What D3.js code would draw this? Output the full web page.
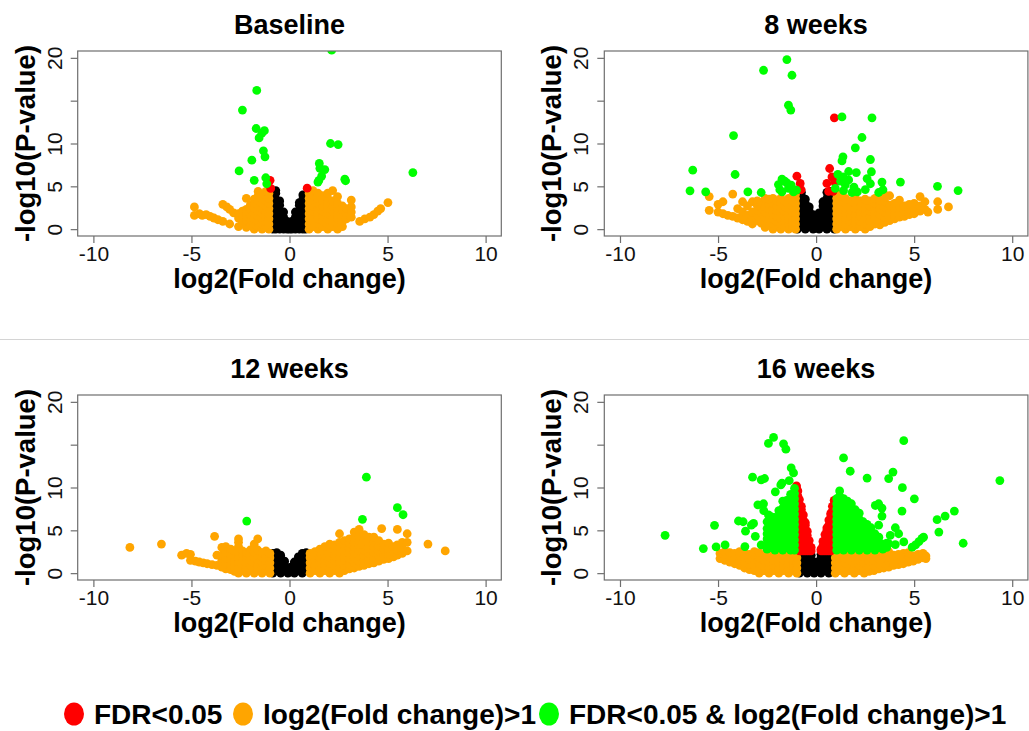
<!DOCTYPE html>
<html><head><meta charset="utf-8">
<script src="https://cdn.jsdelivr.net/npm/d3@7"></script>
<style>body{margin:0;background:#fff}svg{display:block}</style>
</head><body><svg id="c" width="1029" height="731"></svg>
<script>
// ---------- text / ticks ----------
const panelTitles = ["Baseline", "8 weeks", "12 weeks", "16 weeks"];
const xLabel = "log2(Fold change)";
const yLabel = "-log10(P-value)";
const xTicks = [-10, -5, 0, 5, 10];
const xTickLabels = ["-10", "-5", "0", "5", "10"];
const yTicks = [0, 5, 10, 15, 20];
const yTickLabels = ["0", "5", "10", "", "20"];
const legendLabels = ["FDR<0.05", "log2(Fold change)>1", "FDR<0.05 & log2(Fold change)>1"];
const catColors = {black: "#000000", orange: "#FFA500", red: "#FF0000", green: "#00FF00"};

// ---------- data: [x, [y,...]] columns or [x, y] points ----------
// Baseline
const base_black = [
  [-0.85,[0,0.6,1.2,1.8,2.4,3.0,3.6]],
  [-0.7,[0,0.7,1.4,2.1,2.8,3.5,4.2,4.5]],
  [-0.5,[0,0.7,1.4,2.1,2.8,3.3]],
  [-0.3,[0,0.7,1.4,2.0]],
  [-0.12,[0,0.6,0.9]],
  [0,[0,0.3]],
  [0.12,[0,0.6,0.9]],
  [0.3,[0,0.7,1.4,2.0]],
  [0.5,[0,0.7,1.4,2.1,2.8,3.1]],
  [0.68,[0,0.7,1.4,2.1,2.8,3.5,4.0]],
  [0.82,[0,0.7,1.4,2.1,2.8,3.4]]
];
const base_orange = [
  [-4.85,[1.6,2.6]],[-4.6,[1.8]],[-4.45,[1.6]],[-4.25,[1.7]],[-4.05,[1.5]],[-3.85,[1.3]],
  [-3.65,[1.1]],[-3.4,[0.9,2.9]],[-3.2,[2.6]],[-3.05,[0.6,2.3]],[-2.85,[1.9]],
  [-2.6,[0.3,1.3,1.8]],[-2.4,[0.8,1.4,2.1]],[-2.2,[0.2,1.0,1.6,2.3,3.6]],
  [-2.0,[0.5,1.1,1.7,2.3,2.8]],[-1.8,[0,0.6,1.2,1.8,2.4,3.0,3.5]],
  [-1.6,[0.3,0.9,1.5,2.1,2.7,3.3,3.9,4.4]],[-1.4,[0,0.6,1.2,1.8,2.4,3.0,3.6,4.1]],
  [-1.2,[0.3,0.9,1.5,2.1,2.7,3.3,3.9,4.4]],[-1.05,[0,0.6,1.2,1.8,2.4,3.0,3.6,4.2]],
  [1.0,[0,0.6,1.2,1.8,2.4,3.0,3.6,4.2]],[1.2,[0.3,0.9,1.5,2.1,2.7,3.3,3.9,4.5]],
  [1.45,[0,0.6,1.2,1.8,2.4,3.0,3.6,4.2]],[1.7,[0.3,0.9,1.5,2.1,2.7,3.3,3.9]],
  [1.95,[0,0.6,1.2,1.8,2.4,3.0,3.6,4.2]],[2.2,[0.3,0.9,1.5,2.1,2.7,3.3,4.5]],
  [2.45,[0,0.6,1.2,1.8,2.4,3.0,3.8]],[2.7,[0.3,0.9,1.5,2.1,2.7]],[2.9,[1.2,1.8,2.4]],
  [3.15,[1.4,2.0,2.6,3.4]],[3.58,[0.9]],[3.84,[1.2]],[4.1,[1.4]],[4.3,[1.7]],
  [4.5,[2.1]],[4.65,[2.4]],[5.02,[3.1]]
];
const base_red = [[-0.99,5.7],[-0.96,4.75],[0.9,4.78]];
const base_green = [
  [2.15,20.9],[-1.67,16.2],[-2.4,13.9],[-1.7,11.75],[-1.28,11.5],[-1.41,11.2],[-1.55,10.65],
  [-1.33,9.15],[-1.25,8.45],[-1.92,8.05],[-2.57,6.8],[-1.8,5.7],[-1.21,6.0],[-1.16,5.3],
  [2.09,10.0],[2.48,9.88],[1.52,7.67],[1.55,7.1],[1.8,6.96],[1.64,6.2],[1.5,5.7],[1.45,5.5],
  [2.82,5.83],[2.86,5.65],[6.29,6.6]
];

// 8 weeks
const w8_black = [
  [-0.95,[0,0.6,1.2,1.8,2.4,3.0,3.6,4.1]],
  [-0.75,[0.3,0.9,1.5,2.1,2.7,3.3,3.9,4.3]],
  [-0.55,[0,0.6,1.2,1.8,2.4,3.0,3.5]],
  [-0.35,[0.3,0.9,1.5,2.1,2.6]],
  [-0.15,[0,0.6,1.2,1.7]],
  [0,[0.3,0.9]],
  [0.15,[0,0.6,1.2,1.9]],
  [0.35,[0.3,0.9,1.5,2.1,2.7,3.2]],
  [0.55,[0,0.6,1.2,1.8,2.4,3.0,3.6,4.3]],
  [0.75,[0.3,0.9,1.5,2.1,2.7,3.3,3.9,4.4]],
  [0.93,[0,0.6,1.2,1.8,2.4,3.0,3.6,4.2]]
];
const w8_orange = [
  [-5.45,[2.2,3.8]],[-5.0,[2.0,2.9]],[-4.75,[1.8,3.2]],[-4.5,[1.6]],[-4.25,[1.5,4.1]],
  [-4.0,[1.3,2.4]],[-3.75,[1.1,2.0,3.2]],[-3.5,[0.9,1.6,2.7]],[-3.25,[0.6,1.3,2.0,3.2]],
  [-3.0,[1.0,1.6,2.2,2.8,3.3]],[-2.8,[0.7,1.3,1.9,2.5,3.1]],
  [-2.6,[0.2,0.8,1.4,2.0,2.6,3.2,3.6]],[-2.4,[0.5,1.1,1.7,2.3,2.9,3.5]],
  [-2.2,[0,0.6,1.2,1.8,2.4,3.0,3.6]],[-2.0,[0.3,0.9,1.5,2.1,2.7,3.3]],
  [-1.8,[0,0.6,1.2,1.8,2.4,3.0,3.6]],[-1.6,[0.3,0.9,1.5,2.1,2.7,3.3]],
  [-1.4,[0,0.6,1.2,1.8,2.4,3.0,3.6]],[-1.2,[0.3,0.9,1.5,2.1,2.7,3.3,3.9]],
  [-1.05,[0,0.6,1.2,1.8,2.4,3.0,3.6,4.1]],
  [1.05,[0,0.6,1.2,1.8,2.4,3.0,3.6,4.2]],[1.25,[0.3,0.9,1.5,2.1,2.7,3.3,3.9]],
  [1.5,[0,0.6,1.2,1.8,2.4,3.0,3.6]],[1.75,[0.3,0.9,1.5,2.1,2.7,3.3]],
  [2.0,[0,0.6,1.2,1.8,2.4,3.0,3.6]],[2.25,[0.3,0.9,1.5,2.1,2.7,3.3]],
  [2.5,[0,0.6,1.2,1.8,2.4,3.0,3.5]],[2.75,[0.3,0.9,1.5,2.1,2.7,3.3]],
  [3.0,[0.6,1.2,1.8,2.4,3.0,3.6]],[3.25,[0.5,1.1,1.7,2.3,2.9,3.4]],
  [3.5,[0.8,1.4,2.0,2.6,3.2,4.0]],[3.75,[1.0,1.6,2.2,2.8,3.9]],
  [4.0,[1.2,1.8,2.4,3.0]],[4.25,[1.4,2.0,2.6,3.4]],[4.5,[1.5,2.1,2.7]],
  [4.75,[1.7,2.3,2.9]],[5.0,[1.8,2.4,3.0]],[5.3,[2.1,2.7,3.8]],[5.55,[2.3,3.2]],
  [5.7,[2.0]],[6.2,[2.3,3.2]],[6.75,[2.6]]
];
const w8_red = [[0.93,13.0],[0.69,7.08],[0.81,6.1],[0.95,5.5],[0.55,5.34],[0.64,4.4],[0.86,4.4],
  [-0.98,6.18],[-0.81,5.34],[-0.76,4.6]];
const w8_green = [
  [-1.49,19.8],[-2.68,18.55],[-1.23,17.97],[-1.41,14.47],[-1.29,13.9],[1.32,13.1],[2.85,13.0],
  [-4.21,10.93],[2.34,10.7],[2.0,9.49],[1.37,8.44],[1.32,7.97],[2.77,8.13],[-6.29,6.88],[-4.13,6.38],
  [1.66,6.73],[2.05,6.6],[2.82,6.7],[-6.43,4.47],[-5.63,4.36],[-3.48,4.36],[-2.8,4.28],
  [-1.74,5.83],[-1.92,5.21],[-1.49,5.4],[-1.27,5.13],[-1.74,4.36],[-1.15,4.36],[-1.0,4.55],
  [-1.41,4.75],[-1.6,5.6],[-1.85,4.6],
  [0.98,4.75],[1.11,6.4],[1.37,6.1],[1.66,5.75],[1.49,5.17],[1.4,4.5],[1.93,4.9],[2.1,4.35],
  [2.51,4.62],[2.77,5.3],[3.36,5.5],[3.41,4.6],[3.19,4.28],[4.3,5.5],[6.19,5.0],[7.24,4.5],
  [1.83,4.28],[1.25,5.6],[2.6,5.9]
];

// 12 weeks
const w12_black = [
  [-0.85,[0,0.6,1.2,1.8,2.3]],[-0.65,[0.3,0.9,1.5,2.1,2.4]],[-0.45,[0,0.6,1.2,1.8,2.1]],
  [-0.25,[0.3,0.9,1.4]],[-0.08,[0,0.6]],[0.08,[0.3,0.7]],[0.25,[0,0.6,1.2,1.3]],
  [0.45,[0.3,0.9,1.5,1.9]],[0.65,[0,0.6,1.2,1.8,2.3]],[0.85,[0.3,0.9,1.5,2.1,2.4]]
];
const w12_orange = [
  [-8.14,[3.0]],[-6.53,[3.4]],[-5.5,[2.1]],[-5.25,[2.3]],[-5.05,[1.5,2.2]],[-4.8,[1.4]],
  [-4.6,[1.3]],[-4.4,[1.2]],[-4.2,[1.1]],[-3.95,[1.0]],[-3.82,[4.3]],[-3.7,[0.9,2.1]],
  [-3.45,[0.7,1.5,2.1,3.0]],[-3.25,[0.5,1.1,1.7,2.4,3.1]],[-3.0,[0.4,1.0,1.6,2.2,2.8]],
  [-2.8,[0.2,0.8,1.4,2.0,2.6]],[-2.6,[0,0.6,1.2,1.8,2.4,3.1,3.6,4.0]],
  [-2.4,[0.3,0.9,1.5,2.1,2.6]],[-2.2,[0,0.6,1.2,1.8,2.4]],[-2.0,[0.3,0.9,1.5,2.1,2.7]],
  [-1.8,[0,0.6,1.2,1.8,2.4,3.0,3.4]],[-1.62,[0.3,0.9,1.5,2.1,2.7,4.0]],
  [-1.4,[0,0.6,1.2,1.8,2.4]],[-1.2,[0.3,0.9,1.5,2.1,2.6]],[-1.0,[0,0.6,1.2,1.8,2.3]],
  [1.05,[0,0.6,1.2,1.8,2.3]],[1.3,[0.3,0.9,1.5,2.1,2.5]],[1.55,[0,0.6,1.2,1.8,2.4,2.8]],
  [1.8,[0.3,0.9,1.5,2.1,2.7,3.1]],[2.05,[0,0.6,1.2,1.8,2.4,3.0,3.4]],
  [2.3,[0.3,0.9,1.5,2.1,2.7,3.3]],[2.55,[0,0.6,1.2,1.8,2.4,3.0,3.6,4.6]],
  [2.8,[0.3,0.9,1.5,2.1,2.7,3.3,3.8]],[3.05,[0.5,1.1,1.7,2.3,2.9,3.5,4.0]],
  [3.3,[0.6,1.2,1.8,2.4,3.0,3.6,4.2,4.8]],[3.55,[0.8,1.4,2.0,2.6,3.2,3.8,4.4,5.1]],
  [3.8,[0.9,1.5,2.1,2.7,3.3,3.9,4.5]],[4.05,[1.1,1.7,2.3,2.9,3.5,4.2]],
  [4.3,[1.2,1.8,2.4,3.0,3.6,4.2]],[4.55,[1.4,2.0,2.6,3.2,3.8]],[4.7,[5.2]],
  [4.8,[1.6,2.2,2.8,3.4]],[5.05,[1.7,2.3,2.9,3.5]],[5.3,[1.9,2.5,3.1]],
  [5.5,[2.1,2.7,3.3,5.1]],[5.75,[2.3,2.9,3.6]],[6.0,[2.6,3.6,4.6]],[7.06,[3.4]],[7.94,[2.6]]
];
const w12_red = [];
const w12_green = [[3.92,11.2],[5.5,7.64],[5.79,6.82],[3.72,6.28],[-2.18,6.08]];

// 16 weeks
const w16_black = [
  [-0.85,[0,0.6,1.2,1.8,2.2]],[-0.65,[0.3,0.9,1.5,2.1]],[-0.45,[0,0.6,1.2,1.8,2.2]],
  [-0.25,[0.3,0.9,1.5,2.1]],[-0.1,[0,0.6,1.3]],[0.1,[0.3,0.9,1.3]],
  [0.25,[0,0.6,1.2,1.8,2.2]],[0.45,[0.3,0.9,1.5,2.1]],[0.65,[0,0.6,1.2,1.8,2.2]],
  [0.85,[0.3,0.9,1.5,2.1]]
];
const w16_orange = [
  [-4.9,[1.7,2.3]],[-4.65,[1.5,2.1,2.5]],[-4.4,[1.3,1.9,2.4]],[-4.15,[1.1,1.7,2.3]],
  [-3.9,[0.9,1.5,2.1,2.5]],[-3.65,[0.6,1.2,1.8,2.4]],[-3.4,[0.4,1.0,1.6,2.2]],
  [-3.15,[0.3,0.9,1.5,2.1,2.5]],[-2.9,[0,0.6,1.2,1.8,2.4]],[-2.65,[0.3,0.9,1.5,2.1]],
  [-2.4,[0,0.6,1.2,1.8,2.4]],[-2.15,[0.3,0.9,1.5,2.1]],[-1.9,[0,0.6,1.2,1.8,2.4]],
  [-1.65,[0.3,0.9,1.5,2.1]],[-1.4,[0,0.6,1.2,1.8,2.4]],[-1.15,[0.3,0.9,1.5,2.1]],
  [-0.98,[0,0.6,1.2,1.8,2.4]],
  [0.98,[0,0.6,1.2,1.8,2.4]],[1.2,[0.3,0.9,1.5,2.1]],[1.45,[0,0.6,1.2,1.8,2.4]],
  [1.7,[0.3,0.9,1.5,2.1]],[1.95,[0,0.6,1.2,1.8,2.4]],[2.2,[0.3,0.9,1.5,2.1]],
  [2.45,[0,0.6,1.2,1.8,2.4]],[2.7,[0.2,0.8,1.4,2.0]],[2.95,[0.3,0.9,1.5,2.1,2.5]],
  [3.2,[0.5,1.1,1.7,2.3]],[3.45,[0.6,1.2,1.8,2.4]],[3.7,[0.7,1.3,1.9,2.5]],
  [3.95,[0.9,1.5,2.1]],[4.2,[1.0,1.6,2.2]],[4.45,[1.1,1.7,2.3]],[4.7,[1.3,1.9,2.4]],
  [4.95,[1.4,2.0]],[5.2,[1.6,2.2]],[5.45,[1.8,2.3]],[5.6,[1.7,2.0]]
];
const w16_red = [
  [-1.0,[7.0,7.6,8.2,8.8,9.4,10.0,10.2]],
  [-0.93,[3.6,4.2,4.8,5.4,6.0,6.6,7.2,7.8,8.4,9.0,9.6]],
  [-0.85,[2.6,3.2,3.8,4.4,5.0,5.6,6.2,6.8,7.4,8.0,8.6]],
  [-0.75,[2.6,3.2,3.8,4.4,5.0,5.6,6.2,6.8,7.4,7.8]],
  [-0.65,[2.6,3.2,3.8,4.4,5.0,5.6,6.2,6.8]],
  [-0.55,[2.6,3.2,3.8,4.4,5.0,5.6,5.9]],
  [-0.45,[2.6,3.2,3.8,4.4,4.9]],
  [-0.35,[2.6,3.2,3.8]],
  [-0.25,[2.6,3.0]],
  [0.25,[2.6,2.8]],
  [0.35,[2.6,3.2,3.7]],
  [0.45,[2.6,3.2,3.8,4.5]],
  [0.55,[2.6,3.2,3.8,4.4,5.0,5.3]],
  [0.65,[2.6,3.2,3.8,4.4,5.0,5.6,6.2]],
  [0.75,[2.6,3.2,3.8,4.4,5.0,5.6,6.2,6.8,7.0]],
  [0.83,[3.0,3.6,4.2,4.8,5.4,6.0,6.6,7.2,7.8]],
  [0.92,[5.0,5.6,6.2,6.8,7.4,8.0,8.5]]
];
const w16_green_dense = [
  [-1.1,[2.7,3.3,3.9,4.5,5.1,5.7,6.3,6.9,7.5,8.1,8.7,9.3,9.9]],
  [-1.3,[2.7,3.3,3.9,4.5,5.1,5.7,6.3,6.9,7.5,8.1,8.7,9.2]],
  [-1.5,[3.0,3.6,4.2,4.8,5.4,6.0,6.6,7.2,7.8,8.5]],
  [-1.7,[2.7,3.3,3.9,4.5,5.1,5.7,6.3,6.9,7.6,8.4]],
  [-1.9,[3.0,3.6,4.2,4.8,5.4,6.0,6.6,7.3]],
  [-2.1,[2.7,3.3,3.9,4.5,5.1,5.7,6.5]],
  [-2.3,[3.0,3.6,4.2,4.8,5.4,6.0,6.6]],
  [-2.5,[2.8,3.4,4.0,4.6,5.2,6.0]],
  [1.05,[2.7,3.3,3.9,4.5,5.1,5.7,6.3,6.9,7.5,8.1,8.7]],
  [1.2,[3.0,3.6,4.2,4.8,5.4,6.0,6.6,7.2,7.8,8.4,9.0,9.6]],
  [1.4,[2.7,3.3,3.9,4.5,5.1,5.7,6.3,6.9,7.5,8.1,8.7]],
  [1.6,[3.0,3.6,4.2,4.8,5.4,6.0,6.6,7.2,7.8,8.4]],
  [1.8,[2.7,3.3,3.9,4.5,5.1,5.7,6.3,6.9,7.5,8.1]],
  [2.0,[3.0,3.6,4.2,4.8,5.4,6.0,6.6,7.4]],
  [2.2,[2.7,3.3,3.9,4.5,5.1,5.7,6.3,7.0]],
  [2.4,[3.0,3.6,4.2,4.8,5.4,6.0]],
  [2.6,[2.7,3.3,3.9,4.5,5.1,5.7]],
  [2.8,[3.0,3.6,4.2,4.8,5.3]],
  [3.0,[2.7,3.3,3.9,4.6]],
  [3.2,[3.0,3.6,4.2]],
  [3.4,[2.8,3.4]],
  [3.6,[3.0,3.5]]
];
const w16_green = [
  [-2.17,15.85],[-2.43,15.15],[-1.66,15.1],[-1.54,14.47],[4.47,15.47],[1.4,13.45],
  [-1.27,12.29],[-1.15,11.7],[-3.24,11.2],[-2.8,10.9],[-2.63,11.05],[1.74,11.9],[3.92,11.8],
  [3.7,11.04],[2.6,11.1],[9.37,10.81],[-1.37,10.8],[-1.8,10.3],[-1.74,10.5],[-2.08,9.5],
  [4.4,9.98],[5.01,8.68],[-2.97,7.98],[-2.68,8.1],[-2.67,7.3],[3.02,7.9],[3.19,8.1],[3.36,7.6],
  [3.36,6.66],[4.38,7.25],[7.05,7.25],[6.58,6.66],[6.17,6.24],[6.26,4.8],[7.5,3.49],
  [-3.96,6.09],[-3.72,6.0],[-3.19,5.8],[-3.3,5.6],[-5.18,5.58],[-3.6,4.9],[-3.1,4.3],
  [-7.7,4.42],[-5.75,2.87],[-5.1,3.07],[-4.64,3.3],[-3.63,3.1],[-2.8,3.3],[-2.43,6.8],
  [3.19,5.6],[4.04,5.3],[4.21,4.6],[3.78,4.4],[4.47,3.64],[3.7,3.45],[4.04,3.34],
  [4.9,3.03],[5.07,3.3],[5.24,3.68],[5.4,4.07],[5.48,4.2]
];

// ---------- panels built from the arrays ----------
const panels = [
  {title: panelTitles[0], layers: [["black", base_black], ["orange", base_orange], ["red", base_red], ["green", base_green]]},
  {title: panelTitles[1], layers: [["black", w8_black], ["orange", w8_orange], ["red", w8_red], ["green", w8_green]]},
  {title: panelTitles[2], layers: [["black", w12_black], ["orange", w12_orange], ["red", w12_red], ["green", w12_green]]},
  {title: panelTitles[3], layers: [["black", w16_black], ["orange", w16_orange], ["red", w16_red], ["green", w16_green_dense], ["green", w16_green]]}
];
const expand = arr => arr.flatMap(d => Array.isArray(d[1]) ? d[1].map(v => [d[0], v]) : [d]);

const FONT = "'Liberation Sans', Arial, Helvetica, sans-serif";
const svg = d3.select("#c");
svg.append("rect").attr("width", 1029).attr("height", 731).attr("fill", "#fff");
svg.append("line").attr("x1", 0).attr("x2", 1029).attr("y1", 339.5).attr("y2", 339.5)
  .attr("stroke", "#d4d4d4").attr("stroke-width", 1.2);

const frames = [{l: 77.7, t: 51}, {l: 604.3, t: 51}, {l: 77.7, t: 395}, {l: 604.3, t: 395}];
const PW = 423.6, PH = 185, R = 4.4, AXC = "#6e6e6e";

panels.forEach((p, i) => {
  const {l, t} = frames[i];
  const x = d3.scaleLinear().domain([-10.8, 10.8]).range([l, l + PW]);
  const y = d3.scaleLinear().domain([-0.8, 20.8]).range([t + PH, t]);
  const g = svg.append("g");
  const cid = "clip" + i;
  svg.append("clipPath").attr("id", cid).append("rect")
    .attr("x", l).attr("y", t).attr("width", PW).attr("height", PH);
  const pg = g.append("g").attr("clip-path", `url(#${cid})`);
  p.layers.forEach(([cat, arr]) => {
    pg.append("g").selectAll("circle").data(expand(arr)).join("circle")
      .attr("cx", d => x(d[0])).attr("cy", d => y(d[1])).attr("r", R)
      .attr("fill", catColors[cat]);
  });
  g.append("rect").attr("x", l).attr("y", t).attr("width", PW).attr("height", PH)
    .attr("fill", "none").attr("stroke", AXC).attr("stroke-width", 1.2);

  const xa = g.append("g").attr("transform", `translate(0,${t + PH})`)
    .call(d3.axisBottom(x).tickValues(xTicks).tickFormat((d, j) => xTickLabels[j]).tickSize(7).tickSizeOuter(0));
  xa.select(".domain").remove();
  xa.attr("font-family", FONT).attr("font-size", 21);
  xa.selectAll("line").attr("stroke", AXC).attr("stroke-width", 1.2);
  xa.selectAll("text").attr("y", 24.5).attr("dy", null).attr("fill", "#111");

  const ya = g.append("g").attr("transform", `translate(${l},0)`)
    .call(d3.axisLeft(y).tickValues(yTicks).tickFormat((d, j) => yTickLabels[j]).tickSize(7).tickSizeOuter(0));
  ya.select(".domain").remove();
  ya.attr("font-family", FONT).attr("font-size", 21);
  ya.selectAll("line").attr("stroke", AXC).attr("stroke-width", 1.2);
  ya.selectAll("text").attr("x", null).attr("dy", null).attr("text-anchor", "middle")
    .attr("transform", "translate(-16,0) rotate(-90)").attr("fill", "#111");

  const cx = l + PW / 2, cy = t + PH / 2;
  g.append("text").attr("x", cx).attr("y", t - 17).attr("text-anchor", "middle")
    .attr("font-family", FONT).attr("font-weight", "bold").attr("font-size", 27).text(p.title);
  g.append("text").attr("x", cx).attr("y", t + PH + 52).attr("text-anchor", "middle")
    .attr("font-family", FONT).attr("font-weight", "bold").attr("font-size", 27).text(xLabel);
  g.append("text").attr("transform", `translate(${l - 43},${cy}) rotate(-90)`).attr("text-anchor", "middle")
    .attr("font-family", FONT).attr("font-weight", "bold").attr("font-size", 27.5).text(yLabel);
});

// ---------- legend ----------
const legendCats = ["red", "orange", "green"];
const legendX = [74, 243, 549];
const lg = svg.append("g");
legendCats.forEach((c, i) => {
  lg.append("ellipse").attr("cx", legendX[i]).attr("cy", 714).attr("rx", 10).attr("ry", 11.5).attr("fill", catColors[c]);
  lg.append("text").attr("x", legendX[i] + 20).attr("y", 724)
    .attr("font-family", FONT).attr("font-weight", "bold").attr("font-size", 28).text(legendLabels[i]);
});
</script></body></html>
